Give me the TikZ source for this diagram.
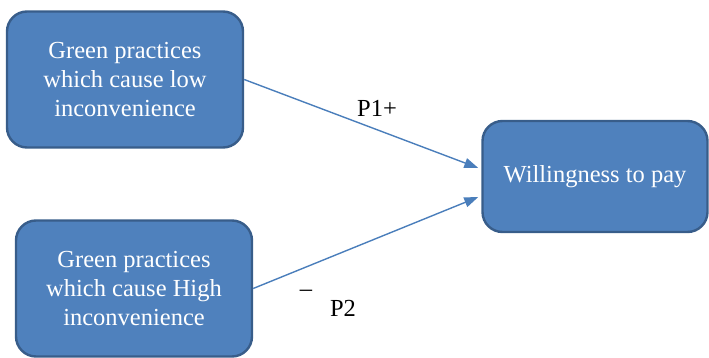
\documentclass[tikz,border=0pt]{standalone}
\usepackage{fontspec}
\setmainfont{Liberation Serif}
\usetikzlibrary{arrows.meta}
\definecolor{boxfill}{HTML}{4F81BD}
\definecolor{boxedge}{HTML}{385D8A}
\definecolor{linkblue}{HTML}{4A7EBB}
\begin{document}
\begin{tikzpicture}[x=1pt,y=-1pt,
  factor/.style={draw=boxedge, line width=2.4pt, fill=boxfill, rounded corners=20pt,
    text=white, align=center, inner sep=0pt,
    font=\fontsize{24.5}{29}\selectfont},
  link/.style={draw=linkblue, line width=1.4pt, -{Triangle[length=14pt,width=10pt]}},
  tag/.style={inner sep=0pt, font=\fontsize{24.5}{29}\selectfont}]
\useasboundingbox (0,0) rectangle (709,358);
\node[factor, minimum width=236pt, minimum height=136pt] (low) at (125,79.5)
  {Green practices\\which cause low\\inconvenience};
\node[factor, minimum width=236pt, minimum height=136pt] (high) at (134,288.5)
  {Green practices\\which cause High\\inconvenience};
\node[factor, minimum width=225pt, minimum height=111pt] (wtp) at (595,176.5)
  {Willingness to pay};
\draw[link] (low.east) -- ([xshift=-3pt,yshift=8.5pt]wtp.west);
\draw[link] (high.east) -- ([xshift=-3pt,yshift=-20.5pt]wtp.west);
\node[tag] (p1) at (377,108) {P1+};
\node[tag] (neg) at (306,293) {–};
\node[tag] (p2) at (343,308) {P2};
\end{tikzpicture}
\end{document}
